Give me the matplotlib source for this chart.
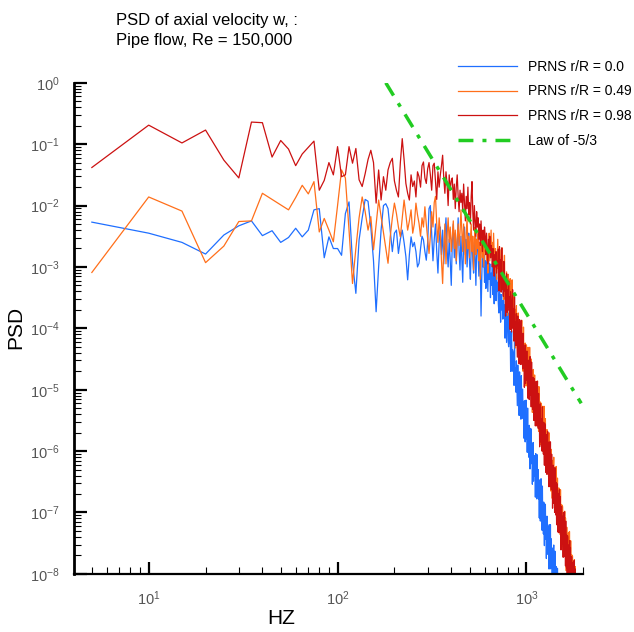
import numpy as np
import matplotlib
matplotlib.use("Agg")
import matplotlib.pyplot as plt
from matplotlib import ticker

plt.rcParams['font.family'] = ['Liberation Sans', 'DejaVu Sans']
plt.rcParams['mathtext.default'] = 'regular'
plt.rcParams['axes.unicode_minus'] = False

freq_step = 5

blue_log_psd = [
    -2.27, -2.45, -2.60, -2.79, -2.48, -2.33, -2.25, -2.49, -2.41, -2.60,   # 5-50
    -2.52, -2.37, -2.51, -2.40, -2.07, -2.05, -2.85, -2.51, -2.70, -2.70,   # 55-100
    -2.81, -2.13, -1.94, -2.92, -3.43, -2.56, -2.20, -1.90, -1.93, -2.35,   # 105-150
    -2.90, -3.73, -3.00, -2.40, -2.00, -1.97, -2.05, -2.40, -2.75, -2.45,   # 155-200
    -2.40, -2.78, -2.55, -2.40, -2.60, -2.83, -3.21, -2.80, -2.51, -2.67,   # 205-250
    -2.60, -2.75, -3.00, -2.94, -2.70, -2.50, -2.56, -2.75, -2.89, -2.60,   # 255-300
    -2.05, -2.00, -2.45, -2.90, -2.55, -2.30, -2.75, -3.10, -2.60, -2.35,   # 305-350
    -2.80, -2.40, -2.95, -2.50, -2.20, -2.70, -3.00, -2.55, -2.90, -3.30,   # 355-400
    -2.60, -2.30, -2.85, -2.45, -2.95, -2.60, -2.20, -2.75, -3.05, -2.50,   # 405-450
    -2.90, -3.25, -2.60, -2.35, -2.80, -2.55, -3.00, -2.70, -2.45, -2.95,   # 455-500
    -3.20, -2.70, -2.50, -2.90, -3.10, -2.60, -2.85, -3.30, -2.75, -2.50,   # 505-550
    -2.85, -3.15, -2.70, -3.00, -3.80, -3.20, -2.65, -3.00, -2.80, -3.25,   # 555-600
    -2.90, -3.35, -2.75, -3.10, -3.40, -2.85, -3.20, -2.95, -3.50, -3.10,   # 605-650
    -3.30, -2.95, -3.45, -3.15, -3.60, -3.00, -3.35, -3.55, -3.10, -3.40,   # 655-700
    -3.25, -3.60, -3.75, -3.35, -3.50, -3.90, -3.45, -3.70, -3.55, -3.85,   # 705-750
    -3.34, -3.83, -3.62, -4.16, -3.55, -3.89, -4.23, -3.72, -3.56, -4.20,   # 755-800
    -4.30, -3.75, -4.25, -4.05, -4.70, -4.25, -4.05, -4.70, -4.35, -4.65,   # 805-850
    -4.39, -4.93, -4.22, -4.86, -4.65, -5.04, -4.53, -4.92, -5.26, -4.60,   # 855-900
    -4.99, -4.73, -5.42, -4.71, -5.25, -4.94, -5.48, -4.77, -5.46, -5.25,   # 905-950
    -4.99, -5.47, -5.26, -5.79, -5.18, -5.51, -5.85, -5.33, -5.17, -5.80,   # 955-1000
    -5.48, -6.02, -5.30, -5.93, -5.71, -6.10, -5.58, -5.96, -6.29, -5.63,   # 1005-1050
    -6.21, -5.64, -6.13, -5.91, -6.54, -6.08, -5.86, -6.49, -6.13, -6.41,   # 1055-1100
    -6.34, -6.07, -6.75, -6.04, -6.57, -6.25, -6.78, -6.06, -6.74, -6.52,   # 1105-1150
    -6.30, -6.78, -6.56, -7.09, -6.47, -6.81, -7.14, -6.62, -6.45, -7.08,   # 1155-1200
    -6.76, -7.29, -6.57, -7.19, -6.97, -7.35, -6.83, -7.21, -7.54, -6.86,   # 1205-1250
    -7.44, -6.87, -7.35, -7.12, -7.75, -7.28, -7.06, -7.68, -7.31, -7.59,   # 1255-1300
    -7.52, -7.24, -7.92, -7.20, -7.72, -7.40, -7.92, -7.20, -7.88, -7.65,   # 1305-1350
    -7.43, -7.90, -7.68, -8.21, -7.58, -7.91, -8.23, -7.71, -7.53, -8.16,   # 1355-1400
    -7.83, -8.36, -7.63, -8.26, -8.03, -8.41, -7.88, -8.26, -8.58, -7.91,   # 1405-1450
    -8.48, -7.91, -8.38, -8.16, -8.78, -8.30, -8.08, -8.70, -8.33, -8.60,   # 1455-1500
]

orange_log_psd = [
    -3.09, -1.86, -2.09, -2.93, -2.66, -2.26, -2.25, -1.80, -1.90, -1.99,   # 5-50
    -2.07, -1.87, -1.67, -1.81, -1.61, -2.43, -2.21, -2.40, -2.59, -2.00,   # 55-100
    -1.42, -1.55, -2.40, -3.27, -2.70, -2.20, -1.86, -2.10, -2.40, -2.18,   # 105-150
    -2.72, -2.30, -1.91, -2.18, -2.45, -2.70, -2.94, -2.51, -2.20, -1.96,   # 155-200
    -2.13, -2.35, -2.51, -2.20, -1.91, -2.15, -2.40, -2.25, -2.07, -2.45,   # 205-250
    -2.30, -1.96, -2.15, -2.29, -2.50, -2.20, -2.35, -2.02, -2.30, -2.55,   # 255-300
    -2.78, -2.50, -2.10, -2.35, -1.95, -1.85, -2.30, -2.60, -2.20, -2.45,   # 305-350
    -2.90, -3.27, -2.70, -2.30, -2.95, -2.50, -2.20, -2.60, -2.35, -2.75,   # 355-400
    -2.50, -2.25, -2.70, -2.40, -2.90, -2.55, -2.30, -2.65, -2.45, -2.07,   # 405-450
    -2.40, -2.75, -2.30, -2.60, -2.95, -2.45, -2.20, -2.70, -2.50, -2.85,   # 455-500
    -2.55, -2.30, -2.75, -2.50, -3.05, -2.60, -2.35, -2.80, -2.55, -2.70,   # 505-550
    -2.45, -2.90, -2.60, -3.20, -2.70, -2.50, -2.85, -2.65, -3.00, -2.60,   # 555-600
    -2.75, -2.50, -2.90, -2.70, -3.10, -2.80, -2.45, -2.90, -2.65, -2.40,   # 605-650
    -2.85, -2.60, -2.95, -2.45, -2.80, -3.10, -2.70, -2.90, -3.20, -2.85,   # 655-700
    -2.55, -3.03, -2.81, -3.34, -2.72, -3.05, -3.38, -2.86, -2.69, -3.32,   # 705-750
    -3.00, -3.53, -2.81, -3.44, -3.22, -3.60, -3.08, -3.46, -3.79, -3.12,   # 755-800
    -3.50, -3.23, -3.91, -3.19, -3.72, -3.40, -3.93, -3.21, -3.89, -3.67,   # 805-850
    -4.00, -3.43, -3.91, -3.69, -4.32, -3.85, -3.63, -4.26, -3.89, -4.17,   # 855-900
    -3.75, -4.23, -4.00, -4.53, -3.91, -4.24, -4.56, -4.04, -3.87, -4.50,   # 905-950
    -4.18, -4.70, -3.98, -4.61, -4.38, -4.76, -4.24, -4.62, -4.94, -4.27,   # 955-1000
    -4.64, -4.37, -5.04, -4.31, -4.84, -4.51, -5.03, -4.31, -4.98, -4.75,   # 1005-1050
    -5.08, -4.50, -4.97, -4.75, -5.37, -4.89, -4.67, -5.29, -4.92, -5.19,   # 1055-1100
    -4.76, -5.24, -5.01, -5.54, -4.91, -5.23, -5.56, -5.03, -4.86, -5.48,   # 1105-1150
    -5.15, -5.68, -4.95, -5.58, -5.35, -5.72, -5.20, -5.57, -5.90, -5.22,   # 1155-1200
    -5.60, -5.32, -6.00, -5.27, -5.80, -5.47, -6.00, -5.27, -5.95, -5.72,   # 1205-1250
    -6.05, -5.47, -5.95, -5.72, -6.35, -5.87, -5.65, -6.27, -5.90, -6.17,   # 1255-1300
    -5.90, -6.42, -5.70, -6.32, -6.10, -6.47, -5.95, -6.32, -6.65, -5.97,   # 1305-1350
    -6.00, -6.47, -6.25, -6.77, -6.15, -6.47, -6.80, -6.27, -6.10, -6.72,   # 1355-1400
    -6.59, -6.32, -6.99, -6.26, -6.78, -6.46, -6.98, -6.25, -6.92, -6.70,   # 1405-1450
    -7.02, -6.44, -6.91, -6.69, -7.31, -6.83, -6.60, -7.23, -6.85, -7.12,   # 1455-1500
    -6.84, -7.36, -6.63, -7.26, -7.03, -7.40, -6.87, -7.24, -7.56, -6.89,   # 1505-1550
    -6.91, -7.38, -7.15, -7.67, -7.04, -7.37, -7.69, -7.16, -6.98, -7.60,   # 1555-1600
    -7.67, -7.09, -7.56, -7.33, -7.95, -7.47, -7.24, -7.86, -7.48, -7.75,   # 1605-1650
    -7.67, -7.39, -8.06, -7.33, -7.85, -7.52, -8.04, -7.31, -7.98, -7.75,   # 1655-1700
    -7.67, -8.19, -7.46, -8.08, -7.85, -8.22, -7.69, -8.06, -8.38, -7.70,   # 1705-1750
    -7.72, -8.19, -7.96, -8.48, -7.85, -8.16, -8.48, -7.95, -7.77, -8.39,   # 1755-1800
    -8.46, -7.88, -8.34, -8.11, -8.73, -8.25, -8.02, -8.63, -8.25, -8.52,   # 1805-1850
    -8.44, -8.15, -8.82, -8.09, -8.61, -8.27, -8.79, -8.06, -8.72, -8.49,   # 1855-1900
    -8.26, -8.73, -8.49, -9.01, -8.38, -8.70, -9.01, -8.48, -8.30, -8.92,   # 1905-1950
    -8.59, -9.10, -8.37, -8.99, -8.76, -9.12, -8.59, -8.96, -9.27, -8.59,   # 1955-2000
]

red_log_psd = [
    -1.38, -0.69, -0.98, -0.77, -1.26, -1.55, -0.64, -0.65, -1.21, -0.94,   # 5-50
    -1.08, -1.35, -1.16, -1.05, -0.95, -1.75, -1.59, -1.30, -1.50, -1.04,   # 55-100
    -1.53, -1.50, -1.04, -1.31, -1.07, -1.58, -1.69, -1.48, -1.25, -1.10,   # 105-150
    -1.30, -1.96, -1.42, -1.91, -1.53, -1.75, -1.42, -1.30, -1.23, -1.60,   # 155-200
    -1.75, -1.86, -1.30, -0.91, -1.25, -1.64, -1.80, -1.91, -1.50, -1.69,   # 205-250
    -1.60, -1.86, -1.45, -1.53, -1.70, -1.35, -1.29, -1.55, -1.64, -1.40,   # 255-300
    -1.30, -1.50, -1.75, -1.35, -1.31, -1.60, -1.90, -1.45, -1.70, -1.50,   # 305-350
    -1.35, -1.18, -1.55, -1.80, -1.45, -1.65, -2.00, -1.50, -1.75, -1.60,   # 355-400
    -1.55, -1.90, -1.65, -2.05, -1.70, -1.50, -1.85, -2.10, -1.75, -1.95,   # 405-450
    -1.80, -2.10, -1.65, -1.95, -2.25, -1.85, -2.05, -1.70, -2.15, -1.95,   # 455-500
    -2.30, -1.85, -1.61, -2.10, -2.40, -2.00, -2.25, -2.50, -2.10, -2.35,   # 505-550
    -2.20, -2.55, -2.30, -2.65, -2.25, -2.50, -2.75, -2.40, -2.60, -2.35,   # 555-600
    -2.50, -2.80, -2.45, -2.70, -2.95, -2.55, -2.75, -2.50, -2.85, -2.65,   # 605-650
    -2.75, -3.00, -2.70, -2.95, -3.15, -2.80, -3.00, -2.75, -3.10, -2.90,   # 655-700
    -2.98, -2.71, -3.39, -2.67, -3.20, -2.88, -3.41, -2.69, -3.37, -3.15,   # 705-750
    -3.48, -2.91, -3.39, -3.17, -3.80, -3.33, -3.11, -3.74, -3.37, -3.65,   # 755-800
    -3.23, -3.71, -3.49, -4.02, -3.40, -3.73, -4.06, -3.54, -3.37, -4.00,   # 805-850
    -3.68, -4.21, -3.49, -4.12, -3.90, -4.28, -3.76, -4.14, -4.47, -3.80,   # 855-900
    -4.18, -3.91, -4.58, -3.86, -4.39, -4.07, -4.59, -3.87, -4.55, -4.33,   # 905-950
    -4.66, -4.08, -4.56, -4.34, -4.96, -4.49, -4.27, -4.90, -4.52, -4.80,   # 955-1000
    -4.37, -4.85, -4.62, -5.14, -4.52, -4.84, -5.16, -4.64, -4.46, -5.08,   # 1005-1050
    -4.76, -5.28, -4.55, -5.18, -4.95, -5.32, -4.80, -5.17, -5.50, -4.82,   # 1055-1100
    -5.19, -4.92, -5.59, -4.87, -5.39, -5.06, -5.59, -4.86, -5.54, -5.31,   # 1105-1150
    -5.63, -5.06, -5.53, -5.31, -5.93, -5.45, -5.23, -5.85, -5.48, -5.75,   # 1155-1200
    -5.48, -6.00, -5.28, -5.90, -5.68, -6.05, -5.53, -5.90, -6.23, -5.55,   # 1205-1250
    -5.58, -6.05, -5.83, -6.35, -5.73, -6.05, -6.38, -5.85, -5.68, -6.30,   # 1255-1300
    -6.18, -5.90, -6.58, -5.85, -6.38, -6.05, -6.58, -5.85, -6.53, -6.30,   # 1305-1350
    -6.63, -6.05, -6.53, -6.30, -6.93, -6.45, -6.23, -6.85, -6.48, -6.75,   # 1355-1400
    -6.47, -7.00, -6.27, -6.89, -6.66, -7.04, -6.51, -6.88, -7.20, -6.53,   # 1405-1450
    -6.55, -7.02, -6.79, -7.32, -6.69, -7.01, -7.33, -6.81, -6.63, -7.25,   # 1455-1500
    -7.32, -6.74, -7.21, -6.99, -7.61, -7.13, -6.90, -7.52, -7.14, -7.42,   # 1505-1550
    -7.34, -7.06, -7.73, -7.00, -7.52, -7.20, -7.72, -6.99, -7.66, -7.43,   # 1555-1600
    -7.35, -7.87, -7.14, -7.76, -7.53, -7.90, -7.37, -7.74, -8.06, -7.38,   # 1605-1650
    -7.40, -7.87, -7.64, -8.16, -7.53, -7.85, -8.17, -7.64, -7.46, -8.08,   # 1655-1700
    -8.15, -7.57, -8.04, -7.81, -8.43, -7.95, -7.72, -8.34, -7.96, -8.23,   # 1705-1750
    -8.15, -7.87, -8.54, -7.81, -8.33, -7.99, -8.51, -7.78, -8.45, -8.22,   # 1755-1800
    -8.14, -8.66, -7.92, -8.54, -8.31, -8.68, -8.15, -8.51, -8.83, -8.15,   # 1805-1850
    -8.17, -8.63, -8.40, -8.92, -8.29, -8.60, -8.92, -8.39, -8.20, -8.82,   # 1855-1900
    -8.89, -8.31, -8.77, -8.54, -9.16, -8.68, -8.44, -9.06, -8.68, -8.95,   # 1905-1950
    -8.87, -8.58, -9.25, -8.52, -9.04, -8.70, -9.22, -8.49, -9.15, -8.92,   # 1955-2000
]

# -5/3 reference line end points
law_freq = [180.0, 1950.0]
law_psd = [1.0, 6.0e-6]

labels = ['PRNS r/R = 0.0', 'PRNS r/R = 0.49', 'PRNS r/R = 0.98', 'Law of -5/3']
colors = ['#1f6fff', '#ff6f1a', '#cc1111', '#22cc22']

x_major = [10, 100, 1000]
y_major = [1e-8, 1e-7, 1e-6, 1e-5, 1e-4, 1e-3, 1e-2, 1e-1, 1]


def freq_axis(n):
    return freq_step * np.arange(1, n + 1)


fig = plt.figure(figsize=(6.34, 6.32), dpi=100)
ax = fig.add_axes([0.116, 0.092, 0.804, 0.777])

series = [blue_log_psd, orange_log_psd, red_log_psd]
for vals, lab, col in zip(series, labels[:3], colors[:3]):
    ax.plot(freq_axis(len(vals)), 10.0 ** np.array(vals), color=col, lw=0.9, label=lab)

law_line, = ax.plot(law_freq, law_psd, color=colors[3], lw=2.5, label=labels[3])
law_line.set_dashes([4.3, 2.6, 1.15, 2.6])

ax.set_xscale('log')
ax.set_yscale('log')
ax.set_xlim(4, 2000)
ax.set_ylim(1e-8, 1)

ax.xaxis.set_major_locator(ticker.FixedLocator(x_major))
ax.yaxis.set_major_locator(ticker.FixedLocator(y_major))
ax.xaxis.set_major_formatter(ticker.LogFormatterSciNotation())
ax.yaxis.set_major_formatter(ticker.LogFormatterSciNotation())
ax.xaxis.set_minor_locator(ticker.LogLocator(base=10, subs=np.arange(2, 10), numticks=100))
ax.yaxis.set_minor_locator(ticker.LogLocator(base=10, subs=np.arange(2, 10), numticks=100))
ax.xaxis.set_minor_formatter(ticker.NullFormatter())
ax.yaxis.set_minor_formatter(ticker.NullFormatter())

for side in ['top', 'right']:
    ax.spines[side].set_visible(False)
ax.spines['left'].set_linewidth(2.0)
ax.spines['bottom'].set_linewidth(1.6)

ax.tick_params(which='major', direction='in', length=9, width=1.6, labelsize=10.5,
               labelcolor='#555555')
ax.tick_params(which='minor', direction='in', length=5, width=0.8)
ax.tick_params(axis='x', which='major', pad=11)
ax.tick_params(axis='y', which='major', pad=10)

ax.set_xlabel('HZ', fontsize=15)
ax.xaxis.set_label_coords(0.407, -0.072)
ax.set_ylabel('PSD', fontsize=15)
ax.yaxis.set_label_coords(-0.095, (574 - 328) / 491.0)

fig.text(116 / 634, 1 - 20 / 632, 'PSD of axial velocity w, :', fontsize=12, va='center')
fig.text(116 / 634, 1 - 41 / 632, 'Pipe flow, Re = 150,000', fontsize=12, va='center')

ax.legend(loc='upper left', bbox_to_anchor=(452 / 634, 1 - 54 / 632),
          bbox_transform=fig.transFigure, frameon=False, fontsize=10,
          handlelength=4.3, handletextpad=0.75, labelspacing=0.78, borderaxespad=0)

fig.savefig('out.png', dpi=100)
